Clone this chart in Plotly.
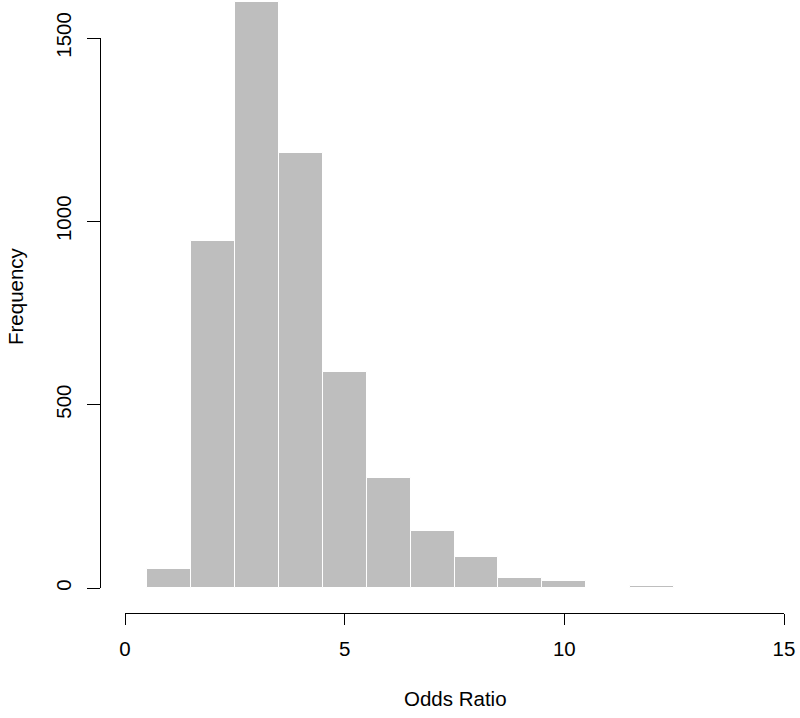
import plotly.graph_objects as go

# histogram of simulated odds ratios (bin width 1, centred on integers)
bin_centers = [1, 2, 3, 4, 5, 6, 7, 8, 9, 10, 11, 12]
counts = [52, 946, 1598, 1186, 589, 300, 155, 85, 27, 19, 0, 5]
x_ticks = [0, 5, 10, 15]
y_ticks = [0, 500, 1000, 1500]

font = dict(family="Liberation Sans, Arial, sans-serif", size=20.5, color="black")

fig = go.Figure()

fig.add_trace(go.Bar(
    x=bin_centers,
    y=counts,
    width=1,
    marker_color="#BEBEBE",
    marker_line_color="white",
    marker_line_width=1,
    hoverinfo="x+y",
    showlegend=False,
))

# invisible trace so the R-style left axis gets drawn
fig.add_trace(go.Scatter(x=[None], y=[None], yaxis="y2", showlegend=False, hoverinfo="skip"))

fig.update_layout(
    width=800,
    height=718,
    margin=dict(l=100, r=16, t=0, b=105, pad=0),
    paper_bgcolor="white",
    plot_bgcolor="rgba(0,0,0,0)",
    font=font,
    bargap=0,
    xaxis=dict(
        domain=[25 / 684, 1],
        range=[0, 15],
        anchor="free",
        position=0,
        automargin=False,
        showline=True, linecolor="black", linewidth=1,
        ticks="outside", ticklen=11, tickcolor="black",
        tickvals=x_ticks,
        ticklabelstandoff=6,
        showgrid=False, zeroline=False,
    ),
    yaxis=dict(
        domain=[25 / 613, 1],
        range=[0, 588 / (550 / 1500)],
        visible=False,
        automargin=False,
    ),
    yaxis2=dict(
        domain=[25 / 613, 575 / 613],
        range=[0, 1500],
        anchor="free",
        position=0,
        automargin=False,
        showline=True, linecolor="black", linewidth=1,
        ticks="outside", ticklen=13, tickcolor="black",
        tickvals=y_ticks,
        tickangle=-90,
        ticklabelstandoff=8,
        showgrid=False, zeroline=False,
    ),
    annotations=[
        dict(text="Odds Ratio", xref="paper", yref="paper",
             x=(455 - 100) / 684, y=(613 - 698) / 613,
             xanchor="center", yanchor="middle", showarrow=False),
        dict(text="Frequency", xref="paper", yref="paper",
             x=(15 - 100) / 684, y=(613 - 296) / 613, textangle=-90,
             xanchor="center", yanchor="middle", showarrow=False),
    ],
)

# drop the default page margin so the figure sits at the window's top-left corner
fig.write_html("out.html", config={"displayModeBar": False},
               post_script="document.body.style.margin = '0';")
